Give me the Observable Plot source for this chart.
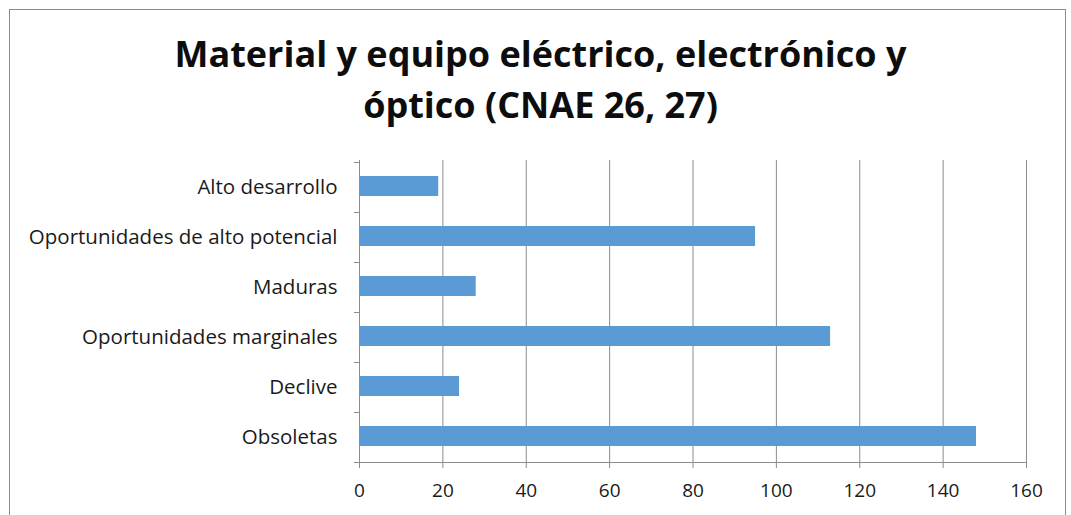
<!DOCTYPE html>
<html>
<head>
<meta charset="utf-8">
<script src="https://cdn.jsdelivr.net/npm/d3@7"></script>
<script src="https://cdn.jsdelivr.net/npm/@observablehq/plot@0.6"></script>
<style>
  html, body { margin: 0; padding: 0; background: #fff; }
  #wrap { position: relative; width: 1071px; height: 515px; overflow: hidden; background: #fff; }
  #frame { position: absolute; left: 9px; top: 9px; width: 1057px; height: 540px; border: 1px solid #8c8c8c; box-sizing: border-box; }
  #title { position: absolute; left: 0; width: 1081px; top: 29px; text-align: center;
           font-family: "Open Sans", sans-serif; font-weight: 700; font-size: 36px; line-height: 50.5px; color: #0d0d0d; letter-spacing: 0px; }
  #chart { position: absolute; left: 0; top: 0; }
</style>
</head>
<body>
<div id="wrap">
  <div id="frame"></div>
  <div id="title">Material y equipo eléctrico, electrónico y<br>óptico (CNAE 26, 27)</div>
  <div id="chart"></div>
</div>
<script>
const categories = ["Alto desarrollo", "Oportunidades de alto potencial", "Maduras", "Oportunidades marginales", "Declive", "Obsoletas"];
const values = [19, 95, 28, 113, 24, 148];
const xTicks = [0, 20, 40, 60, 80, 100, 120, 140, 160];

const data = categories.map((c, i) => ({category: c, value: values[i]}));
const gridColor = "#8c8c8c";
const textColor = "#1a1a1a";

const chart = Plot.plot({
  width: 1071,
  height: 515,
  marginLeft: 359,
  marginRight: 45,
  marginTop: 162,
  marginBottom: 53,
  style: {fontFamily: "'Open Sans', sans-serif", background: "transparent"},
  x: {domain: [0, 160], ticks: xTicks},
  y: {domain: categories, paddingInner: 0.6, paddingOuter: 0.3},
  marks: [
    Plot.ruleX(xTicks, {x: d => d, stroke: gridColor, strokeWidth: 1, insetTop: -2}),
    Plot.ruleY(categories, {y: d => d, dy: -25, x1: 0, x2: 0, insetLeft: -5, stroke: gridColor}),
    Plot.ruleY([categories[categories.length - 1]], {y: d => d, dy: 25, x1: 0, x2: 0, insetLeft: -5, stroke: gridColor}),
    Plot.barX(data, {y: "category", x: "value", fill: "#5b9bd5", dy: -1}),
    Plot.axisX({ticks: xTicks, tickSize: 6, tickPadding: 15, stroke: gridColor, color: textColor, fontSize: 19, label: null}),
    Plot.frame({anchor: "bottom", stroke: gridColor}),
    Plot.axisY({tickSize: 0, tickPadding: 22, color: textColor, fontSize: 20.5, label: null})
  ]
});
document.getElementById("chart").appendChild(chart);
</script>
</body>
</html>
